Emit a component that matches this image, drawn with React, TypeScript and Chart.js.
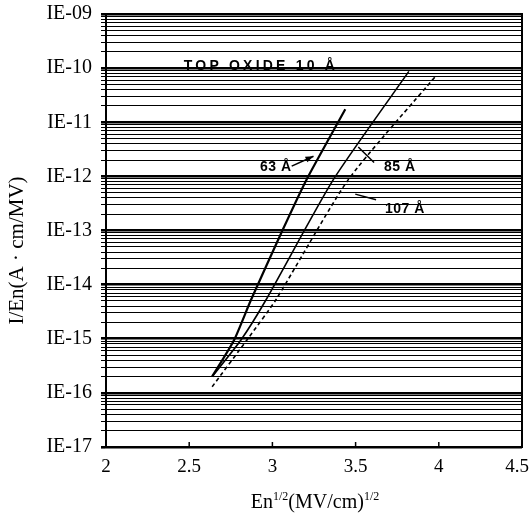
import React, { useEffect, useRef } from 'react';
import { Chart, registerables } from 'chart.js';

Chart.register(...registerables);

// ---- data ----
const xTickValues = [2, 2.5, 3, 3.5, 4, 4.5];
const yDecades = [-17, -16, -15, -14, -13, -12, -11, -10, -9];

const x63 = [2.638, 2.770, 2.871, 3.060, 3.205, 3.438];
const y63 = [2.0e-16, 9.5e-16, 5.2e-15, 1.0e-13, 8.7e-13, 1.74e-11];
const x85 = [2.638, 2.811, 2.961, 3.366, 3.820];
const y85 = [2.0e-16, 9.5e-16, 5.2e-15, 8.7e-13, 8.7e-11];
const x107 = [2.638, 2.847, 3.020, 3.456, 3.981];
const y107 = [1.3e-16, 9.5e-16, 5.2e-15, 8.7e-13, 7.1e-11];

const seriesNames = ['63 Å', '85 Å', '107 Å'];
const topLabel = 'TOP OXIDE 10 Å';
const yTitle = 'I/En(A · cm/MV)';
const xTitleParts = ['En', '1/2', '(MV/cm)', '1/2'];

// ---- helpers ----
const SERIF = '"Liberation Serif", "Times New Roman", serif';
const SANS = '"Liberation Sans", Arial, sans-serif';

const isDecade = (v: number) => {
  const l = Math.log10(v);
  return Math.abs(l - Math.round(l)) < 1e-6;
};
const decadeLabel = (v: number) => {
  const e = Math.round(Math.log10(v));
  return 'IE-' + String(-e).padStart(2, '0');
};
const pts = (xs: number[], ys: number[]) => xs.map((x, i) => ({ x, y: ys[i] }));

const overlay = {
  id: 'overlay',
  afterDatasetsDraw(chart: any) {
    const { ctx, chartArea: a, width } = chart;
    const xs = chart.scales.x;
    const ys = chart.scales.y;
    const P = (x: number, y: number) => [xs.getPixelForValue(x), ys.getPixelForValue(y)];
    ctx.save();
    ctx.strokeStyle = '#000';
    ctx.fillStyle = '#000';
    // frame
    ctx.lineWidth = 2;
    ctx.strokeRect(a.left, a.top, a.right - a.left, a.bottom - a.top);
    // inward x ticks + x tick labels (kept inside the canvas)
    ctx.lineWidth = 1.5;
    ctx.font = '19px ' + SERIF;
    ctx.textAlign = 'center';
    ctx.textBaseline = 'top';
    for (const v of xTickValues) {
      const px = xs.getPixelForValue(v);
      ctx.beginPath();
      ctx.moveTo(px, a.bottom);
      ctx.lineTo(px, a.bottom - 5);
      ctx.stroke();
      const label = String(v);
      const w = ctx.measureText(label).width;
      const cx = Math.min(px, width - w / 2 - 1);
      ctx.fillText(label, cx, a.bottom + 11);
    }
    // annotations
    ctx.textAlign = 'center';
    ctx.textBaseline = 'middle';
    ctx.font = 'bold 14px ' + SANS;
    (ctx as any).letterSpacing = '3.2px';
    let [tx, ty] = P(2.931, 1.1e-10);
    ctx.fillText(topLabel, tx, ty);
    (ctx as any).letterSpacing = '0.5px';
    [tx, ty] = P(3.02, 1.48e-12);
    ctx.fillText(seriesNames[0], tx, ty);
    [tx, ty] = P(3.766, 1.48e-12);
    ctx.fillText(seriesNames[1], tx, ty);
    [tx, ty] = P(3.796, 2.45e-13);
    ctx.fillText(seriesNames[2], tx, ty);
    (ctx as any).letterSpacing = '0px';

    ctx.lineWidth = 1.5;
    const seg = (x1: number, y1: number, x2: number, y2: number, arrow: boolean) => {
      const [p1x, p1y] = P(x1, y1);
      const [p2x, p2y] = P(x2, y2);
      ctx.beginPath();
      ctx.moveTo(p1x, p1y);
      ctx.lineTo(p2x, p2y);
      ctx.stroke();
      if (arrow) {
        const ang = Math.atan2(p2y - p1y, p2x - p1x);
        const L = 8, W = 3;
        ctx.beginPath();
        ctx.moveTo(p2x, p2y);
        ctx.lineTo(p2x - L * Math.cos(ang) + W * Math.sin(ang), p2y - L * Math.sin(ang) - W * Math.cos(ang));
        ctx.lineTo(p2x - L * Math.cos(ang) - W * Math.sin(ang), p2y - L * Math.sin(ang) + W * Math.cos(ang));
        ctx.closePath();
        ctx.fill();
      }
    };
    seg(3.116, 1.55e-12, 3.247, 2.35e-12, true);
    seg(3.611, 1.8e-12, 3.516, 3.5e-12, false);
    seg(3.623, 3.7e-13, 3.498, 4.7e-13, false);
    ctx.restore();
  },
  afterDraw(chart: any) {
    const { ctx, chartArea: a } = chart;
    ctx.save();
    ctx.fillStyle = '#000';
    // y title
    ctx.font = '21px ' + SERIF;
    ctx.textAlign = 'center';
    ctx.textBaseline = 'middle';
    ctx.translate(17, (a.top + a.bottom) / 2 + 20);
    ctx.rotate(-Math.PI / 2);
    ctx.fillText(yTitle, 0, 0);
    ctx.restore();
    // x title with superscripts
    ctx.save();
    ctx.fillStyle = '#000';
    ctx.textBaseline = 'alphabetic';
    ctx.textAlign = 'left';
    const big = '20px ' + SERIF;
    const small = '12px ' + SERIF;
    const fonts = [big, small, big, small];
    let total = 0;
    const widths = xTitleParts.map((t, i) => {
      ctx.font = fonts[i];
      const w = ctx.measureText(t).width;
      total += w;
      return w;
    });
    let cx = (a.left + a.right) / 2 - total / 2 + 1;
    const base = a.bottom + 61;
    xTitleParts.forEach((t, i) => {
      ctx.font = fonts[i];
      ctx.fillText(t, cx, i % 2 === 1 ? base - 8 : base);
      cx += widths[i];
    });
    ctx.restore();
  },
};

export default function App() {
  const ref = useRef<HTMLCanvasElement>(null);
  useEffect(() => {
    if (!ref.current) return;
    const chart = new Chart(ref.current, {
      type: 'line',
      data: {
        datasets: [
          {
            label: seriesNames[0],
            data: pts(x63, y63),
            borderColor: '#000',
            borderWidth: 2.2,
            pointRadius: 0,
            tension: 0.2,
          },
          {
            label: seriesNames[1],
            data: pts(x85, y85),
            borderColor: '#000',
            borderWidth: 1.6,
            pointRadius: 0,
            tension: 0.2,
          },
          {
            label: seriesNames[2],
            data: pts(x107, y107),
            borderColor: '#000',
            borderWidth: 1.6,
            borderDash: [4, 3],
            pointRadius: 0,
            tension: 0.2,
          },
        ],
      },
      options: {
        animation: false,
        responsive: false,
        devicePixelRatio: 1,
        layout: { padding: { left: 0, right: 8, top: 14, bottom: 0 } },
        plugins: { legend: { display: false }, tooltip: { enabled: false } },
        scales: {
          x: {
            type: 'linear',
            min: 2,
            max: 4.5,
            afterBuildTicks: (s: any) => {
              s.ticks = xTickValues.map((v) => ({ value: v }));
            },
            afterFit: (s: any) => {
              s.height = 73;
              s.paddingLeft = 0;
              s.paddingRight = 0;
            },
            grid: { display: true, drawOnChartArea: false, drawTicks: false },
            border: { display: true, color: '#000', width: 2 },
            ticks: { display: false, autoSkip: false },
          },
          y: {
            type: 'logarithmic',
            min: 1e-17,
            max: 1e-9,
            afterBuildTicks: (s: any) => {
              const t: any[] = [];
              for (const e of yDecades) {
                if (e === -9) {
                  t.push({ value: Number('1e' + e), major: true });
                  continue;
                }
                for (let m = 1; m <= 9; m++) {
                  t.push({ value: Number(m + 'e' + e), major: m === 1 });
                }
              }
              s.ticks = t;
            },
            afterFit: (s: any) => {
              s.width = 106;
              s.paddingTop = 0;
              s.paddingBottom = 0;
            },
            grid: {
              color: '#000',
              lineWidth: (c: any) => (c.tick && isDecade(c.tick.value) ? 2.6 : 1),
              tickLength: 5,
            },
            border: { display: true, color: '#000', width: 2 },
            ticks: {
              autoSkip: false,
              padding: 9,
              color: '#000',
              font: { family: SERIF, size: 20 },
              callback: (v: any) => (isDecade(Number(v)) ? decadeLabel(Number(v)) : ''),
            },
          },
        },
      },
      plugins: [overlay],
    });
    return () => chart.destroy();
  }, []);
  return (
    <div style={{ width: 514, height: 504 }}>
      <canvas
        ref={ref}
        width={530}
        height={520}
        style={{ position: 'fixed', left: 0, top: 0, display: 'block' }}
      />
    </div>
  );
}
